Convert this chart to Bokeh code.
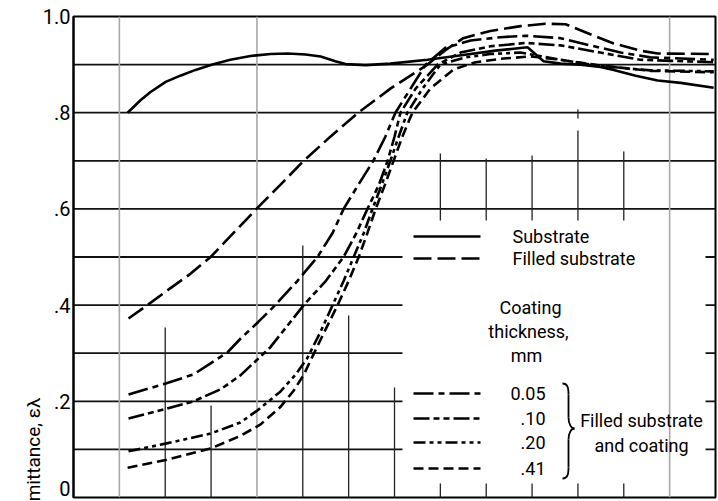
from bokeh.plotting import figure
from bokeh.models import Range1d, FixedTicker, Label, Title
from bokeh.embed import file_html
from bokeh.resources import INLINE

FONT = "Roboto"

# ---------------- data (x in grid divisions, y = spectral emittance) ----------------
sub_x = [1.18, 1.46, 1.68, 2.01, 2.33, 2.66, 3.03, 3.42, 3.86, 4.30, 4.67, 5.06, 5.39, 5.71, 5.93,
         6.37, 6.91, 7.72, 8.50, 9.20, 9.60, 9.90, 10.07, 10.25, 10.62, 11.06, 11.49, 11.78, 12.26,
         12.74, 13.24, 13.96]
sub_y = [0.800, 0.826, 0.843, 0.864, 0.877, 0.889, 0.900, 0.910, 0.918, 0.922, 0.923, 0.921, 0.917,
         0.907, 0.901, 0.899, 0.902, 0.910, 0.920, 0.929, 0.933, 0.936, 0.922, 0.907, 0.902, 0.900,
         0.895, 0.889, 0.877, 0.867, 0.862, 0.852]

fill_x = [1.20, 1.61, 2.01, 2.55, 2.99, 3.49, 3.99, 4.51, 5.02, 5.60, 6.21, 6.91, 7.72, 8.11, 8.50,
          9.09, 9.75, 10.29, 10.73, 11.27, 11.78, 12.36, 12.74, 13.96]
fill_y = [0.372, 0.400, 0.428, 0.465, 0.500, 0.550, 0.600, 0.650, 0.700, 0.750, 0.800, 0.850, 0.900,
          0.930, 0.955, 0.970, 0.980, 0.985, 0.984, 0.963, 0.944, 0.929, 0.923, 0.922]

c05_x = [1.20, 2.01, 2.62, 2.99, 3.36, 3.64, 4.03, 4.40, 4.88, 5.32, 5.65, 5.89, 6.21, 6.54, 6.80,
         7.02, 7.35, 7.68, 8.11, 8.66, 9.31, 9.86, 10.62, 11.27, 11.93, 12.58, 13.96]
c05_y = [0.214, 0.237, 0.256, 0.279, 0.302, 0.330, 0.365, 0.400, 0.450, 0.500, 0.550, 0.600, 0.650,
         0.700, 0.750, 0.800, 0.850, 0.900, 0.935, 0.950, 0.957, 0.960, 0.955, 0.940, 0.925, 0.915,
         0.910]

c10_x = [1.20, 2.01, 2.62, 3.21, 3.64, 4.29, 5.02, 5.50, 5.89, 6.17, 6.41, 6.66, 6.85, 7.00,
         7.13, 7.46, 7.94, 8.44, 9.09, 9.86, 10.62, 11.49, 12.36, 13.96]
c10_y = [0.164, 0.184, 0.200, 0.225, 0.254, 0.312, 0.400, 0.450, 0.500, 0.550, 0.600, 0.650,
         0.700, 0.750, 0.800, 0.850, 0.900, 0.925, 0.938, 0.945, 0.940, 0.925, 0.910, 0.905]

c20_x = [1.20, 2.01, 2.99, 3.64, 4.01, 4.51, 4.84, 5.10, 5.39, 5.65, 5.89, 6.11, 6.33, 6.52, 6.72,
         6.91, 7.09, 7.28, 7.61, 8.00, 8.55, 9.09, 9.75, 10.62, 11.49, 12.58, 13.96]
c20_y = [0.096, 0.112, 0.133, 0.156, 0.181, 0.220, 0.255, 0.290, 0.345, 0.400, 0.450, 0.500, 0.550,
         0.600, 0.650, 0.700, 0.750, 0.800, 0.850, 0.900, 0.915, 0.922, 0.925, 0.910, 0.897, 0.888,
         0.886]

c41_x = [1.18, 2.01, 2.99, 3.64, 4.08, 4.51, 4.80, 5.02, 5.21, 5.50, 5.76, 6.00, 6.22, 6.41, 6.59,
         6.79, 6.98, 7.17, 7.39, 7.78, 8.29, 8.77, 9.31, 9.97, 10.62, 11.49, 12.58, 13.96]
c41_y = [0.062, 0.078, 0.102, 0.128, 0.152, 0.188, 0.222, 0.255, 0.293, 0.350, 0.400, 0.450, 0.500,
         0.550, 0.600, 0.650, 0.700, 0.750, 0.800, 0.850, 0.890, 0.905, 0.912, 0.917, 0.910, 0.898,
         0.887, 0.884]

y_ticks = [0.019, 0.2, 0.4, 0.6, 0.8, 1.0]
y_tick_labels = ["0", ".2", ".4", ".6", ".8", "1.0"]
y_title = "Spectral emittance, \u03b5\u03bb"
coat_labels = ["0.05", ".10", ".20", ".41"]

# ---------------- figure ----------------
W, H = 718, 501
L, R, T, B = 73, 3, 16, 4
X0, X1 = 0.0, 14.0
p = figure(width=W, height=H, output_backend="svg", toolbar_location=None,
           x_range=Range1d(X0, X1), y_range=Range1d(0, 1),
           x_axis_location=None, min_border_left=L, min_border_right=R,
           min_border_top=T, min_border_bottom=B)
p.grid.visible = False
p.background_fill_color = "white"
p.border_fill_color = "white"
p.outline_line_color = "black"
p.outline_line_width = 2

ax = p.yaxis[0]
ax.ticker = FixedTicker(ticks=y_ticks)
ax.major_label_overrides = {t: s for t, s in zip(y_ticks, y_tick_labels)}
ax.major_tick_line_color = None
ax.major_tick_out = 0
ax.major_tick_in = 0
ax.minor_tick_line_color = None
ax.minor_tick_out = 0
ax.minor_tick_in = 0
ax.axis_line_width = 2
ax.major_label_standoff = 3
ax.major_label_text_font = FONT
ax.major_label_text_font_size = "20px"
ax.major_label_text_color = "black"

p.add_layout(Title(text=y_title, align="right", offset=381, standoff=-10,
                   text_font=FONT, text_font_size="19px", text_font_style="normal",
                   text_color="black"), "left")

# pixel -> data helpers (frame: x 73..715, y 16..497 in the image)
fx0, fx1, fy0, fy1 = 73.0, 715.0, 16.0, 497.0
def dx(px):
    return X0 + (px - fx0) / (fx1 - fx0) * (X1 - X0)
def dy(py):
    return (fy1 - py) / (fy1 - fy0)

# ---------------- grid ----------------
hx0, hx1, hy = [], [], []
for k in range(1, 10):
    yv = k / 10
    if yv <= 0.5:
        hx0 += [X0, dx(705)]
        hx1 += [dx(402), X1]
        hy += [yv, yv]
    else:
        hx0.append(X0); hx1.append(X1); hy.append(yv)
p.segment(x0=hx0, y0=hy, x1=hx1, y1=hy, line_color="#111111", line_width=1.8)

for k in (1, 4, 13):
    p.segment(x0=[k], y0=[0], x1=[k], y1=[1], line_color="#a8a8a8", line_width=1.6)
vsegs = [(2, 0, dy(327)), (3, 0, dy(405)), (5, 0, dy(245)), (6, 0, dy(315)), (7, 0, dy(387)),
         (8, dy(220), dy(153)), (9, dy(220), dy(158)), (10, dy(220), dy(155)), (11, dy(220), dy(130)),
         (12, dy(220), dy(151)),
         (8, 0, dy(483)), (9, 0, dy(483)), (10, 0, dy(483)), (11, 0, dy(483)), (12, 0, dy(483)),
         (11, dy(118), dy(109))]
p.segment(x0=[v[0] for v in vsegs], y0=[v[1] for v in vsegs],
          x1=[v[0] for v in vsegs], y1=[v[2] for v in vsegs],
          line_color="#222222", line_width=1.3)

# ---------------- curves ----------------
LW = 2.6
styles = {
    "sub": "solid",
    "fill": "18 6",
    "c05": "20 5 6 5",
    "c10": "16 4 6 4 6 4",
    "c20": "12 4 4 4 4 4",
    "c41": "10 5",
}
p.line(sub_x, sub_y, line_color="black", line_width=LW, line_dash=styles["sub"])
p.line(fill_x, fill_y, line_color="black", line_width=LW, line_dash=styles["fill"])
p.line(c05_x, c05_y, line_color="black", line_width=LW, line_dash=styles["c05"])
p.line(c10_x, c10_y, line_color="black", line_width=LW, line_dash=styles["c10"])
p.line(c20_x, c20_y, line_color="black", line_width=LW, line_dash=styles["c20"])
p.line(c41_x, c41_y, line_color="black", line_width=LW, line_dash=styles["c41"])

# ---------------- legend (drawn manually) ----------------
def txt(px, py, s, align="left", size="18px"):
    p.add_layout(Label(x=dx(px), y=dy(py), text=s, text_align=align, text_baseline="middle",
                       text_font=FONT, text_font_size=size, text_color="black"))

lx0, lx1 = dx(413), dx(480)
leg_rows = [(236, "sub", "Substrate"), (258, "fill", "Filled substrate")]
for py, key, s in leg_rows:
    p.line([lx0, lx1], [dy(py), dy(py)], line_color="black", line_width=LW, line_dash=styles[key])
    txt(512, py, s)

txt(530, 307, "Coating", align="center")
txt(528, 331, "thickness,", align="center")
txt(526, 355, "mm", align="center")

coat_rows = [(393, "c05"), (418, "c10"), (442, "c20"), (468, "c41")]
for (py, key), s in zip(coat_rows, coat_labels):
    p.line([lx0, lx1], [dy(py), dy(py)], line_color="black", line_width=LW, line_dash=styles[key])
    txt(545, py, s, align="right")

# brace
bz = [((562, 383), (568, 394), (567, 383), (568, 387)),
      ((568, 417), (574, 428), (568, 424), (571, 428)),
      ((574, 428), (568, 439), (571, 428), (568, 432)),
      ((568, 467), (562, 478), (568, 474), (567, 478))]
p.bezier(x0=[dx(b[0][0]) for b in bz], y0=[dy(b[0][1]) for b in bz],
         x1=[dx(b[1][0]) for b in bz], y1=[dy(b[1][1]) for b in bz],
         cx0=[dx(b[2][0]) for b in bz], cy0=[dy(b[2][1]) for b in bz],
         cx1=[dx(b[3][0]) for b in bz], cy1=[dy(b[3][1]) for b in bz],
         line_color="black", line_width=1.8)
p.segment(x0=[dx(568), dx(568)], y0=[dy(394), dy(439)], x1=[dx(568), dx(568)], y1=[dy(417), dy(467)],
          line_color="black", line_width=1.8)

txt(641, 420, "Filled substrate", align="center")
txt(641, 445, "and coating", align="center")

open("out.html", "w").write(file_html(p, INLINE))
